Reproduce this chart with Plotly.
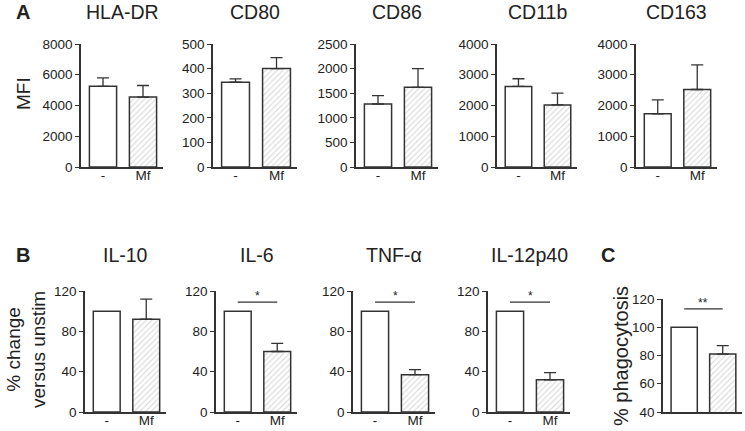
import plotly.graph_objects as go

W, H = 745, 431
groups = ["-", "Mf"]

# Panel A (MFI)
titles_a = ["HLA-DR", "CD80", "CD86", "CD11b", "CD163"]
means_a = [[5250, 4550], [345, 400], [1280, 1620], [2620, 2020], [1730, 2520]]
errs_a = [[550, 750], [13, 45], [170, 380], [250, 380], [450, 800]]
ymax_a = [8000, 500, 2500, 4000, 4000]
dtick_a = [2000, 100, 500, 1000, 1000]

# Panel B (% change versus unstim)
titles_b = ["IL-10", "IL-6", "TNF-α", "IL-12p40"]
means_b = [[100, 92], [100, 60], [100, 37], [100, 32]]
errs_b = [[0, 20], [0, 8], [0, 5], [0, 7]]
sig_b = [None, 109, 109, 109]
sig_lbl_b = [None, "*", "*", "*"]

# Panel C (% phagocytosis)
means_c = [100, 81]
errs_c = [0, 6]
sig_c = 113
sig_lbl_c = "**"

FONT = "Liberation Sans, Arial, sans-serif"
TXT = "#222"
LINE = "#333"

# layout geometry (page pixels)
top_dom_px = [(81, 163), (213, 297), (356, 438), (497, 577), (636, 717)]
bot_dom_px = [(85, 166), (216, 297), (353, 435), (488, 570)]
c_dom_px = (663, 742)
top_y_px = (44, 167)
bot_y_px = (291, 412)
c_y_px = (299, 412)


def px(x):
    return x / W


def py(y):
    return 1 - y / H


def xd(p):
    return [px(p[0]), px(p[1])]


def yd(p):
    return [py(p[1]), py(p[0])]


fig = go.Figure()
layout = {}
annotations = []
idx = 0


def add_panel(means, errs, xdom, ydom, yrange, dtick, title, title_y, sig=None, sig_lbl=None,
              xr=1.5, xlabels=True):
    global idx
    idx += 1
    xa = "x" if idx == 1 else f"x{idx}"
    ya = "y" if idx == 1 else f"y{idx}"
    xk = "xaxis" if idx == 1 else f"xaxis{idx}"
    yk = "yaxis" if idx == 1 else f"yaxis{idx}"
    fig.add_trace(go.Bar(
        x=[groups[0]], y=[means[0]], xaxis=xa, yaxis=ya, width=0.68,
        marker=dict(color="white", line=dict(color=LINE, width=1.5)),
        error_y=dict(type="data", array=[errs[0]], arrayminus=[0], symmetric=False,
                     color=LINE, thickness=1.3, width=6, visible=errs[0] > 0),
        showlegend=False, hoverinfo="skip"))
    fig.add_trace(go.Bar(
        x=[groups[1]], y=[means[1]], xaxis=xa, yaxis=ya, width=0.68,
        marker=dict(color="white", line=dict(color=LINE, width=1.5),
                    pattern=dict(shape="/", fgcolor="#aaa", bgcolor="white", size=4, solidity=0.25)),
        error_y=dict(type="data", array=[errs[1]], arrayminus=[0], symmetric=False,
                     color=LINE, thickness=1.3, width=6),
        showlegend=False, hoverinfo="skip"))
    if sig is not None:
        fig.add_trace(go.Scatter(
            x=groups, y=[sig, sig], xaxis=xa, yaxis=ya, mode="lines",
            line=dict(color=LINE, width=1.3), showlegend=False, hoverinfo="skip"))
        annotations.append(dict(x=0.5, y=sig, xref=xa, yref=ya, text=sig_lbl, showarrow=False,
                                yanchor="bottom", yshift=-3, font=dict(size=12, color=TXT, family=FONT)))
    layout[xk] = dict(domain=xd(xdom), anchor=ya, type="category", range=[-0.55, xr],
                      showline=True, linecolor=LINE, linewidth=1.5, ticks="", automargin=False,
                      showticklabels=xlabels,
                      tickfont=dict(size=13.5, color=TXT, family=FONT), showgrid=False, zeroline=False,
                      ticklabelstandoff=-5, fixedrange=True)
    layout[yk] = dict(domain=yd(ydom), anchor=xa, range=yrange, dtick=dtick, tick0=yrange[0],
                      showline=True, linecolor=LINE, linewidth=1.5, ticks="outside", ticklen=4,
                      automargin=False,
                      tickcolor=LINE, tickwidth=1.3, tickfont=dict(size=13.5, color=TXT, family=FONT),
                      showgrid=False, zeroline=False, fixedrange=True)
    if title:
        annotations.append(dict(x=px((xdom[0] + xdom[1]) / 2), y=py(title_y), xref="paper", yref="paper",
                                text=title, showarrow=False, xanchor="center", yanchor="middle",
                                font=dict(size=19.5, color=TXT, family=FONT)))


for i in range(5):
    add_panel(means_a[i], errs_a[i], top_dom_px[i], top_y_px, [0, ymax_a[i]], dtick_a[i], titles_a[i], 12)
for i in range(4):
    add_panel(means_b[i], errs_b[i], bot_dom_px[i], bot_y_px, [0, 120], 40, titles_b[i], 255,
              sig_b[i], sig_lbl_b[i])
add_panel(means_c, errs_c, c_dom_px, c_y_px, [40, 120], 20, "", 255, sig_c, sig_lbl_c, xlabels=False)


def lab(text, x, y, size, bold=False, angle=0):
    annotations.append(dict(x=px(x), y=py(y), xref="paper", yref="paper",
                            text=f"<b>{text}</b>" if bold else text,
                            showarrow=False, xanchor="center", yanchor="middle", textangle=angle,
                            font=dict(size=size, color=TXT, family=FONT)))


lab("A", 23, 12, 20, bold=True)
lab("B", 23, 255, 20, bold=True)
lab("C", 608, 255, 20, bold=True)
lab("MFI", 24, 94, 19, angle=-90)
lab("% change<br>versus unstim", 26, 350, 19, angle=-90)
lab("% phagocytosis", 621, 356, 20, angle=-90)

fig.update_layout(**layout)
fig.update_layout(width=W, height=H, margin=dict(l=0, r=0, t=0, b=0, autoexpand=False),
                  paper_bgcolor="white", plot_bgcolor="white", barmode="overlay",
                  annotations=annotations, font=dict(family=FONT, color=TXT))
fig.write_html("out.html", config={"displayModeBar": False},
               post_script="document.body.style.margin='0';document.body.style.padding='0';"
                           "document.body.style.overflow='hidden';")
